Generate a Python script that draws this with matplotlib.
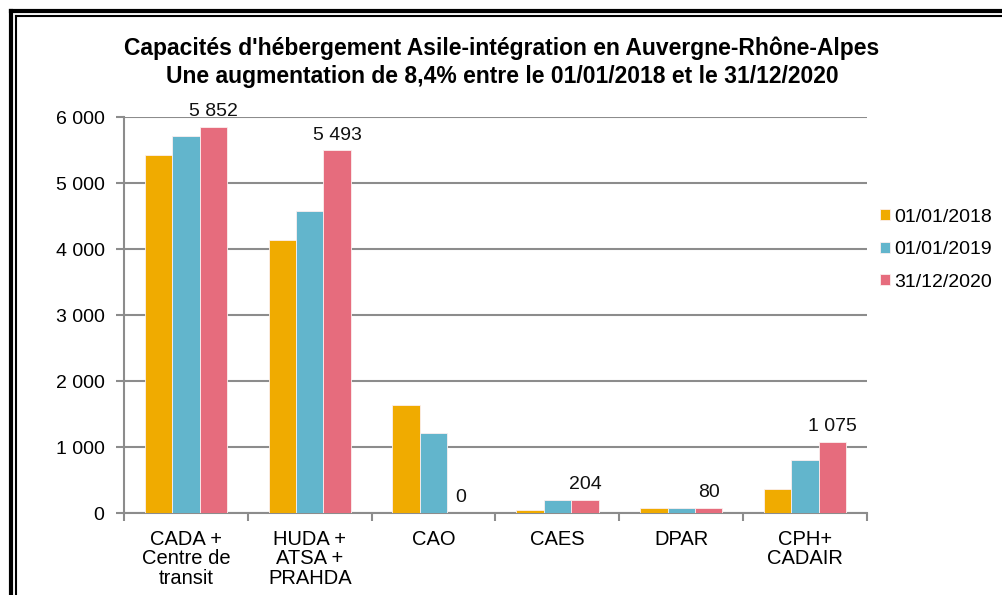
import matplotlib.pyplot as plt
import numpy as np
from matplotlib.lines import Line2D

# ============================================================
# DATA
# ============================================================

categories = ["CADA +\nCentre de\ntransit", "HUDA +\nATSA +\nPRAHDA", "CAO",
              "CAES", "DPAR", "CPH+\nCADAIR"]
series_names = ["01/01/2018", "01/01/2019", "31/12/2020"]
values_2018 = [5420, 4136, 1636, 52, 78, 360]
values_2019 = [5717, 4576, 1207, 198, 80, 800]
values_2020 = [5852, 5493, 0, 204, 80, 1075]
y_ticks = [0, 1000, 2000, 3000, 4000, 5000, 6000]

colors = ["#F0AB00", "#62B5CC", "#E66C7D"]
grid_color = "#8C8C8C"


def fmt(v):
    return f"{v:,}".replace(",", " ")


# ============================================================
# FIGURE
# ============================================================

plt.rcParams['font.family'] = ['Liberation Sans', 'DejaVu Sans']
fig = plt.figure(figsize=(10.03, 5.95), dpi=100)
W, H = 1003, 595
ax = fig.add_axes([124 / W, 1 - 513 / H, (867 - 124) / W, (513 - 117) / H])

x = np.arange(len(categories))
bw = 0.222
all_series = [values_2018, values_2019, values_2020]
for i, (vals, col, name) in enumerate(zip(all_series, colors, series_names)):
    ax.bar(x + (i - 1) * bw, vals, width=bw, color=col, edgecolor="#FBEFEF",
           linewidth=0.6, label=name, zorder=3)

# labels on last series
for xi, v in zip(x + bw, values_2020):
    ax.text(xi, v + 100, fmt(v), ha="center", va="bottom", fontsize=14,
            color="#111111", zorder=4)

ax.set_xlim(-0.5, len(categories) - 0.5)
ax.set_ylim(0, 6000)
ax.set_yticks(y_ticks)
ax.set_yticklabels([fmt(v) for v in y_ticks], fontsize=14)
ax.yaxis.grid(True, color=grid_color, linewidth=1.5, zorder=0)
ax.set_axisbelow(True)

# category labels between boundary ticks
ax.set_xticks(np.arange(len(categories) + 1) - 0.5)
ax.set_xticklabels([])
ax.set_xticks(x, minor=True)
ax.set_xticklabels(categories, minor=True, fontsize=14.5, linespacing=1.05)
ax.tick_params(axis="x", which="minor", length=0, pad=12)
ax.tick_params(axis="x", which="major", length=6, color=grid_color, width=1.5)
ax.tick_params(axis="y", length=6, color=grid_color, width=1.5, pad=8)

for s in ["top", "right"]:
    ax.spines[s].set_visible(False)
for s in ["left", "bottom"]:
    ax.spines[s].set_color(grid_color)
    ax.spines[s].set_linewidth(1.5)

fig.text(502 / W, 1 - 48 / H, "Capacités d'hébergement Asile-intégration en Auvergne-Rhône-Alpes",
         ha="center", va="center", fontsize=16.5, fontweight="bold")
fig.text(502 / W, 1 - 76 / H, "Une augmentation de 8,4% entre le 01/01/2018 et le 31/12/2020",
         ha="center", va="center", fontsize=16.5, fontweight="bold")

fig.legend(loc="upper left", bbox_to_anchor=(863 / W, 1 - 191 / H), frameon=False,
           fontsize=14, handlelength=0.5, handleheight=0.5, handletextpad=0.2,
           labelspacing=0.8)

# double frame (top and left)
for lw, off in [(3, 11), (1.5, 16)]:
    fig.add_artist(Line2D([off / W, off / W], [0, 1 - off / H], color="black",
                          linewidth=lw, transform=fig.transFigure))
    fig.add_artist(Line2D([off / W, 1], [1 - off / H, 1 - off / H], color="black",
                          linewidth=lw, transform=fig.transFigure))

fig.savefig("out.png", dpi=100)
